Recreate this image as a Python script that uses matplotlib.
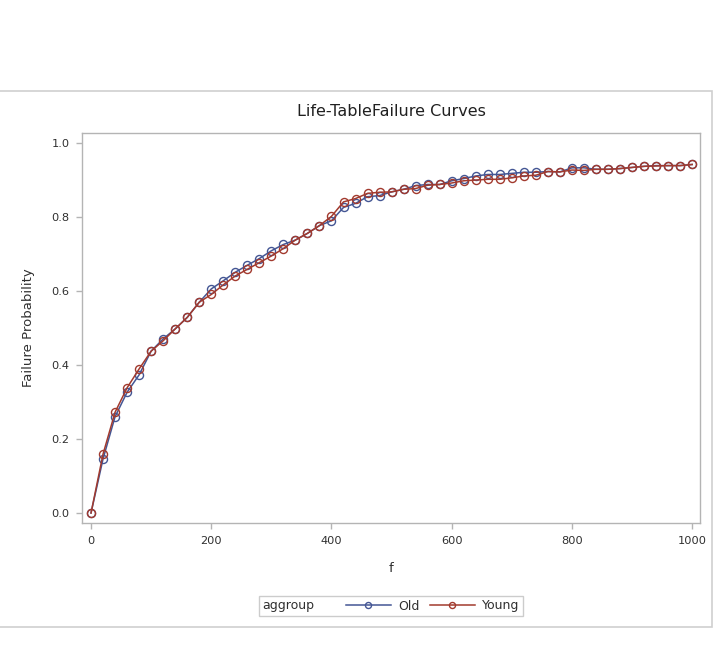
import matplotlib
matplotlib.use("Agg")
import matplotlib.pyplot as plt
from matplotlib.patches import Rectangle
from matplotlib.offsetbox import HPacker

# time points (every 20 units)
f_vals = list(range(0, 1001, 20))

old_prob = [0.000, 0.146, 0.260, 0.326, 0.373, 0.437, 0.470, 0.497, 0.528, 0.569,
            0.605, 0.627, 0.650, 0.669, 0.687, 0.708, 0.725, 0.737, 0.755, 0.776,
            0.789, 0.825, 0.836, 0.854, 0.857, 0.867, 0.874, 0.884, 0.887, 0.887,
            0.897, 0.903, 0.910, 0.914, 0.914, 0.917, 0.920, 0.920, 0.922, 0.921,
            0.932, 0.932, 0.928, 0.928, 0.930, 0.933, 0.936, 0.938, 0.938, 0.938,
            0.941]
young_prob = [0.000, 0.159, 0.272, 0.338, 0.389, 0.437, 0.465, 0.497, 0.528, 0.569,
              0.590, 0.616, 0.640, 0.658, 0.676, 0.694, 0.714, 0.737, 0.755, 0.776,
              0.801, 0.840, 0.849, 0.863, 0.866, 0.867, 0.874, 0.876, 0.885, 0.887,
              0.891, 0.897, 0.899, 0.901, 0.901, 0.905, 0.910, 0.912, 0.922, 0.921,
              0.926, 0.925, 0.928, 0.928, 0.930, 0.933, 0.936, 0.937, 0.938, 0.938,
              0.941]

group_names = ["Old", "Young"]
group_colors = ["#445694", "#A23A2E"]

W, H = 719, 646
fig = plt.figure(figsize=(W / 100, H / 100), dpi=100)

# outer gray frame around the graph
fig.patches.append(Rectangle((-0.01, 19 / H), 719 / W, 536 / H, transform=fig.transFigure,
                             fill=False, edgecolor="#cfcfcf", linewidth=1.2))

ax = fig.add_axes([82 / W, 123 / H, 618 / W, 390 / H])

for name, probs, col in zip(group_names, [old_prob, young_prob], group_colors):
    ax.plot(f_vals, probs, color=col, linewidth=1.1, marker="o", markersize=5.8,
            markerfacecolor="none", markeredgecolor=col, markeredgewidth=1.0,
            label=name)

ax.set_xlim(-15, 1013)
ax.set_ylim(-0.027, 1.026)
ax.set_xticks([0, 200, 400, 600, 800, 1000])
ax.set_yticks([0.0, 0.2, 0.4, 0.6, 0.8, 1.0])
ax.set_yticklabels(["0.0", "0.2", "0.4", "0.6", "0.8", "1.0"])

for sp in ax.spines.values():
    sp.set_color("#b4b4b4")
    sp.set_linewidth(1.0)
ax.tick_params(direction="out", length=4, width=1, color="#b4b4b4",
               labelsize=8.2, labelcolor="#303030", pad=5)

ax.set_xlabel("f", fontsize=9.5, color="#303030", labelpad=12)
ax.set_ylabel("Failure Probability", fontsize=9.5, color="#303030", labelpad=12)
ax.set_title("Life-TableFailure Curves", fontsize=11.5, color="#202020", pad=12)

# legend with the group title placed inline
leg = fig.legend(loc="center", bbox_to_anchor=(391 / W, 40 / H), ncol=2,
                 title="aggroup", title_fontsize=9, fontsize=9,
                 frameon=True, fancybox=False, edgecolor="#c0c0c0",
                 handlelength=3.6, handletextpad=0.6, columnspacing=0.8,
                 borderpad=0.3, markerscale=0.75)
leg.get_frame().set_linewidth(1.0)
for t in leg.get_texts():
    t.set_color("#303030")
leg.get_title().set_color("#303030")
old_box = leg._legend_box
new_box = HPacker(pad=old_box.pad, sep=old_box.sep * 5, align="center",
                  children=old_box.get_children())
new_box.set_figure(fig)
new_box.set_offset(leg._findoffset)
leg._legend_box = new_box

fig.savefig("out.png", dpi=100)
